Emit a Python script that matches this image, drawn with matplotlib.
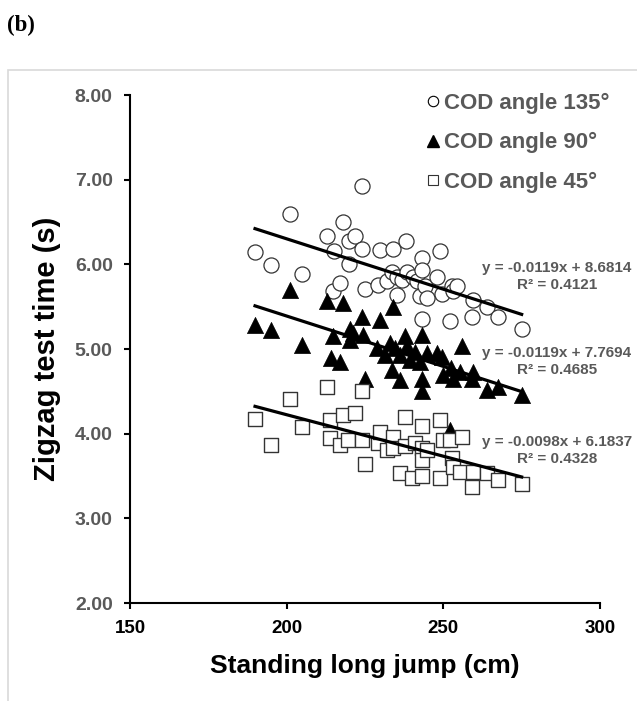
import matplotlib
matplotlib.use("Agg")
import matplotlib.pyplot as plt
from matplotlib.patches import Rectangle
from matplotlib.lines import Line2D
import numpy as np

# ---------------- data ----------------
c135_x = [189.9, 194.9, 201.1, 205.0, 213.0, 215.1, 214.9, 217.0, 217.9, 220.0,
          221.8, 220.0, 223.9, 223.9, 225.0, 229.2, 229.8, 231.9, 233.5, 234.0,
          235.1, 235.1, 236.7, 238.0, 238.3, 240.4, 241.5, 242.6, 243.1, 243.1,
          243.1, 244.1, 244.7, 247.9, 249.0, 249.5, 252.1, 252.7, 253.2, 254.3,
          259.0, 259.6, 263.8, 267.5, 275.0]
c135_y = [6.15, 5.99, 6.60, 5.89, 6.33, 6.16, 5.68, 5.78, 6.50, 6.27,
          6.33, 6.00, 6.92, 6.18, 5.71, 5.76, 6.17, 5.80, 5.91, 6.18,
          5.85, 5.64, 5.81, 6.27, 5.91, 5.85, 5.80, 5.63, 6.07, 5.93,
          5.36, 5.74, 5.60, 5.85, 6.16, 5.65, 5.33, 5.74, 5.68, 5.74,
          5.38, 5.58, 5.50, 5.38, 5.24]

c90_x = [189.9, 194.9, 201.1, 205.0, 212.8, 214.3, 217.9, 217.0, 214.9, 220.2,
         221.3, 220.2, 223.9, 224.5, 225.0, 228.7, 229.8, 231.4, 233.0, 233.5,
         234.0, 234.6, 236.2, 236.2, 237.8, 238.3, 239.4, 241.0, 242.6, 243.1,
         243.1, 243.1, 244.7, 247.9, 249.5, 250.0, 252.1, 252.6, 253.2, 255.3,
         256.0, 259.6, 259.0, 263.8, 267.5, 275.0]
c90_y = [5.28, 5.22, 5.70, 5.05, 5.57, 4.89, 5.54, 4.85, 5.15, 5.24,
         5.19, 5.11, 5.38, 5.17, 4.65, 5.01, 5.34, 4.93, 5.07, 4.75,
         5.50, 5.01, 4.93, 4.63, 5.15, 5.03, 4.87, 4.97, 4.85, 5.17,
         4.65, 4.50, 4.95, 4.95, 4.91, 4.69, 4.04, 4.77, 4.65, 4.73,
         5.03, 4.73, 4.65, 4.52, 4.55, 4.46]

c45_x = [189.9, 194.9, 201.1, 205.0, 212.8, 213.8, 213.8, 217.0, 218.1, 219.7,
         221.8, 223.9, 223.9, 225.0, 229.3, 229.8, 231.9, 234.0, 234.0, 236.2,
         237.8, 237.8, 239.9, 241.0, 243.1, 243.1, 243.1, 243.1, 244.7, 249.0,
         249.0, 250.0, 252.1, 252.7, 253.2, 255.3, 255.9, 259.0, 259.6, 263.8,
         267.5, 275.0]
c45_y = [4.17, 3.87, 4.41, 4.08, 4.55, 4.16, 3.95, 3.87, 4.22, 3.93,
         4.24, 4.50, 3.93, 3.64, 3.89, 4.02, 3.81, 3.96, 3.83, 3.53,
         4.20, 3.85, 3.48, 3.89, 4.09, 3.83, 3.69, 3.50, 3.81, 4.16,
         3.48, 3.93, 3.93, 3.71, 3.61, 3.55, 3.96, 3.37, 3.55, 3.53,
         3.45, 3.40]

series_labels = ["COD angle 135°", "COD angle 90°", "COD angle 45°"]
slopes = [-0.0119, -0.0119, -0.0098]
intercepts = [8.6814, 7.7694, 6.1837]
r2_values = [0.4121, 0.4685, 0.4328]

x_ticks = [150, 200, 250, 300]
y_ticks = [2.0, 3.0, 4.0, 5.0, 6.0, 7.0, 8.0]

# ---------------- figure ----------------
plt.rcParams['font.family'] = ['Liberation Sans', 'DejaVu Sans']
W, H = 637, 701
fig = plt.figure(figsize=(W / 100, H / 100), dpi=100)
ax = fig.add_axes([130 / W, 1 - 603 / H, 470 / W, 508 / H])

# outer light-grey frame (cut off at right/bottom)
fig.add_artist(Rectangle((8 / W, -0.05), 1.2, (H - 70) / H + 0.05,
                         transform=fig.transFigure, fill=False,
                         edgecolor='#d9d9d9', lw=1.2))

fig.text(7 / W, 1 - 25 / H, "(b)", family=['Liberation Serif', 'DejaVu Serif'],
         fontweight='bold', fontsize=16.5, va='center', ha='left')

gray = '#595959'
ax.scatter(c135_x, c135_y, s=118, marker='o', facecolors='white',
           edgecolors='#333333', linewidths=0.9, zorder=3)
ax.scatter(c90_x, c90_y, s=135, marker='^', facecolors='black',
           edgecolors='black', linewidths=0.5, zorder=3)
ax.scatter(c45_x, c45_y, s=115, marker='s', facecolors='white',
           edgecolors='#333333', linewidths=1.0, zorder=3)

# trendlines
for xs, m, b in zip([c135_x, c90_x, c45_x], slopes, intercepts):
    xx = np.array([min(xs), max(xs)])
    ax.plot(xx, m * xx + b, color='black', lw=2.3, zorder=4)

# equation annotations
eq_pos = [(557, 268, 285), (557, 353, 370), (557, 442, 459)]
for (cx, y1, y2), m, b, r2 in zip(eq_pos, slopes, intercepts, r2_values):
    fig.text(cx / W, 1 - y1 / H, f"y = {m:.4f}x + {b:.4f}", color=gray,
             fontweight='bold', fontsize=11, ha='center', va='center')
    fig.text(cx / W, 1 - y2 / H, f"R² = {r2:.4f}", color=gray,
             fontweight='bold', fontsize=11, ha='center', va='center')

# legend
handles = [
    Line2D([], [], marker='o', ls='none', markersize=7.5, markerfacecolor='white',
           markeredgecolor='black', markeredgewidth=0.8),
    Line2D([], [], marker='^', ls='none', markersize=8, markerfacecolor='black',
           markeredgecolor='black'),
    Line2D([], [], marker='s', ls='none', markersize=7.5, markerfacecolor='white',
           markeredgecolor='#333333', markeredgewidth=0.8),
]
leg = ax.legend(handles, series_labels, loc='upper left',
                bbox_to_anchor=((422 - 130) / 470, (603 - 93) / 508),
                frameon=False, handletextpad=0.0, handlelength=1.0,
                labelspacing=0.82, borderaxespad=0, borderpad=0,
                prop={'weight': 'bold', 'size': 16})
for t in leg.get_texts():
    t.set_color(gray)

ax.set_xlim(150, 300)
ax.set_ylim(2, 8)
ax.set_xticks(x_ticks)
ax.set_yticks(y_ticks)
ax.set_yticklabels([f"{v:.2f}" for v in y_ticks])
ax.tick_params(axis='y', direction='out', length=4.5, width=1.5, labelsize=14,
               labelcolor=gray, pad=8)
ax.tick_params(axis='x', direction='out', length=4.5, width=1.5, labelsize=13.5,
               labelcolor='black', pad=8)
for lbl in ax.get_xticklabels() + ax.get_yticklabels():
    lbl.set_fontweight('bold')
for sp in ['top', 'right']:
    ax.spines[sp].set_visible(False)
for sp in ['left', 'bottom']:
    ax.spines[sp].set_linewidth(1.5)
    ax.spines[sp].set_color('black')

ax.set_xlabel("Standing long jump (cm)", fontsize=19, fontweight='bold', labelpad=12)
ax.set_ylabel("Zigzag test time (s)", fontsize=21, fontweight='bold', labelpad=10)

fig.savefig("out.png", dpi=100)
